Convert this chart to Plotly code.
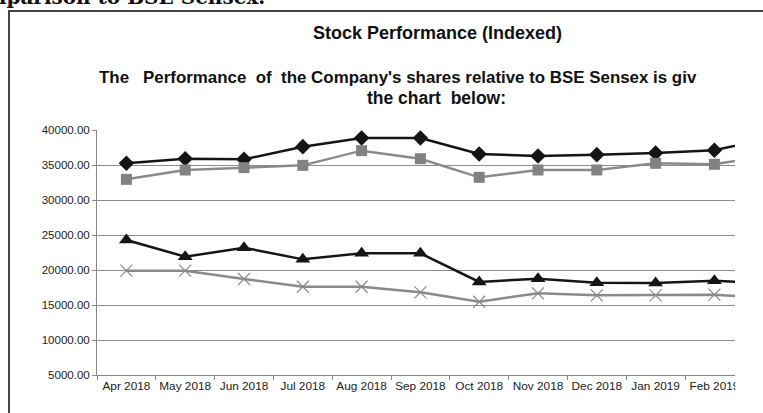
import plotly.graph_objects as go

months = ["Apr 2018", "May 2018", "Jun 2018", "Jul 2018", "Aug 2018", "Sep 2018",
          "Oct 2018", "Nov 2018", "Dec 2018", "Jan 2019", "Feb 2019", "Mar 2019"]
series_diamond = [35240, 35900, 35810, 37620, 38860, 38860, 36570, 36290, 36480, 36710, 37100, 38950]
series_square = [32950, 34290, 34620, 34950, 37050, 35900, 33240, 34290, 34290, 35240, 35100, 36460]
series_triangle = [24290, 21900, 23190, 21520, 22380, 22380, 18290, 18760, 18190, 18140, 18480, 18060]
series_cross = [19900, 19900, 18710, 17610, 17610, 16810, 15470, 16670, 16380, 16380, 16480, 15930]
y_ticks = [5000, 10000, 15000, 20000, 25000, 30000, 35000, 40000]

W, H = 763, 413
# positions in page pixels (body margin removed via post_script)
L, R, T, B = 97, 735, 130, 375
pw, ph = R - L, B - T

def px(x):
    return (x - L) / pw

def py(y):
    return (B - y) / ph

fig = go.Figure()
fig.add_trace(go.Scatter(x=months, y=series_diamond, mode="lines+markers",
                         line=dict(color="#151515", width=2.5),
                         marker=dict(symbol="diamond", size=12, color="#151515")))
fig.add_trace(go.Scatter(x=months, y=series_square, mode="lines+markers",
                         line=dict(color="#8a8a8a", width=2.5),
                         marker=dict(symbol="square", size=11, color="#828282")))
fig.add_trace(go.Scatter(x=months, y=series_triangle, mode="lines+markers",
                         line=dict(color="#151515", width=2.5),
                         marker=dict(symbol="triangle-up", size=13, color="#151515")))
fig.add_trace(go.Scatter(x=months, y=series_cross, mode="lines+markers",
                         line=dict(color="#8a8a8a", width=2.5),
                         marker=dict(symbol="x-thin-open", size=12,
                                     line=dict(color="#7a7a7a", width=1.2))))

font_fam = "Liberation Sans, Arial, sans-serif"
fig.update_layout(
    width=W, height=H,
    margin=dict(l=L, r=W - R, t=T, b=H - B, pad=0),
    paper_bgcolor="white", plot_bgcolor="white",
    showlegend=False,
    font=dict(family=font_fam, size=11, color="#222"),
    xaxis=dict(type="category", categoryorder="array", categoryarray=months,
               range=[-0.5, -0.5 + pw / 58.8], tickson="boundaries",
               tickangle=0, automargin=False,
               ticks="outside", ticklen=4, tickcolor="#888",
               showline=True, linecolor="#888", linewidth=1,
               showgrid=False, tickfont=dict(size=11.8, color="#222")),
    yaxis=dict(range=[5000, 40000], tickvals=y_ticks, tickformat=".2f",
               automargin=False,
               ticks="outside", ticklen=4, tickcolor="#888",
               showline=True, linecolor="#888", linewidth=1,
               showgrid=True, gridcolor="#8c8c8c", gridwidth=1,
               zeroline=False, tickfont=dict(size=11.5, color="#222")),
)

nb = "\u00a0"
fig.add_annotation(xref="paper", yref="paper", x=px(437), y=py(33),
                   text="<b>Stock Performance (Indexed)</b>", showarrow=False,
                   xanchor="center", yanchor="middle",
                   font=dict(size=18, color="#111", family=font_fam))
fig.add_annotation(xref="paper", yref="paper", x=px(97), y=py(78),
                   text="<b>The" + nb * 3 + "Performance" + nb * 2 + "of" + nb * 2
                        + "the Company's shares relative to BSE Sensex is giv</b>",
                   showarrow=False, xanchor="left", yanchor="middle",
                   font=dict(size=16.9, color="#111", family=font_fam))
fig.add_annotation(xref="paper", yref="paper", x=px(436), y=py(98),
                   text="<b>the chart" + nb * 2 + "below:</b>",
                   showarrow=False, xanchor="center", yanchor="middle",
                   font=dict(size=17.5, color="#111", family=font_fam))
# clipped heading above the frame
fig.add_annotation(xref="paper", yref="paper", x=px(267), y=py(-3),
                   text="<b>Comparison to BSE Sensex.</b>",
                   showarrow=False, xanchor="right", yanchor="middle",
                   font=dict(size=20, color="#111", family="DejaVu Serif, serif"))

# frame
fig.add_shape(type="rect", xref="paper", yref="paper",
              x0=px(9), x1=px(900), y0=py(600), y1=py(11),
              line=dict(color="#444", width=2), layer="below")
# crop cover on the right
fig.add_shape(type="rect", xref="paper", yref="paper",
              x0=px(735.5), x1=px(900), y0=py(600), y1=py(13),
              line=dict(width=0), fillcolor="white", layer="above")

fig.write_html("out.html", config={"displayModeBar": False},
               post_script="document.body.style.margin='0';")
